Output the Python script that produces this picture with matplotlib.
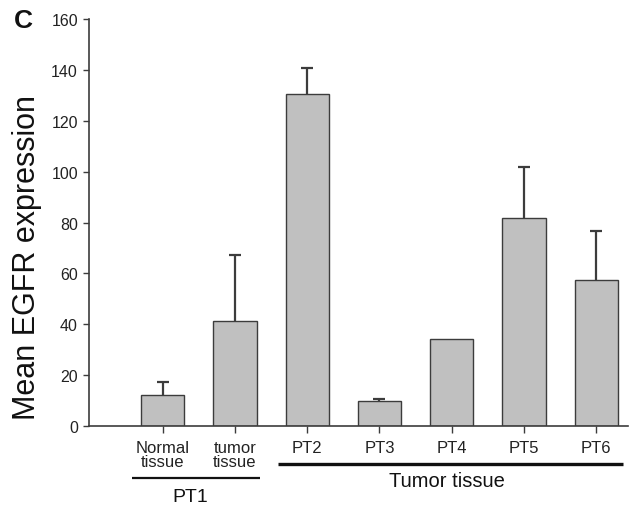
import matplotlib
matplotlib.use("Agg")
import matplotlib.pyplot as plt
import numpy as np

plt.rcParams['font.family'] = ['Liberation Sans', 'DejaVu Sans']

categories = ["Normal\ntissue", "tumor\ntissue", "PT2", "PT3", "PT4", "PT5", "PT6"]
means = [12.3, 41.2, 130.6, 9.8, 34.2, 81.8, 57.4]
err_upper = [5.0, 26.1, 10.1, 0.9, None, 20.2, 19.1]
yticks = [0, 20, 40, 60, 80, 100, 120, 140, 160]

fig = plt.figure(figsize=(6.3, 5.06), dpi=100)
ax = fig.add_axes([89/630, 79/506, 539/630, 407/506])

x = np.arange(1, len(categories) + 1)
ax.bar(x, means, width=0.6, color="#c0c0c0", edgecolor="#3c3c3c", linewidth=1.0, zorder=2)

ex = [xi for xi, e in zip(x, err_upper) if e is not None]
ey = [m for m, e in zip(means, err_upper) if e is not None]
ee = [e for e in err_upper if e is not None]
_, caps, _ = ax.errorbar(ex, ey, yerr=[np.zeros(len(ee)), ee], fmt="none", ecolor="#3c3c3c",
                         elinewidth=1.6, capsize=4.5, capthick=1.6, zorder=1)
caps[0].set_visible(False)

ax.set_xlim(-0.02, 7.44)
ax.set_ylim(0, 160)
ax.set_yticks(yticks)
ax.set_xticks(x)
ax.set_xticklabels(categories, fontsize=12, color="#222222", linespacing=0.95)
ax.tick_params(axis="y", labelsize=11.5, direction="out", length=4, width=1, colors="#3c3c3c", labelcolor="#222222", pad=4)
ax.tick_params(axis="x", direction="out", length=5, width=1, colors="#3c3c3c", labelcolor="#222222", pad=5)
for s in ["top", "right"]:
    ax.spines[s].set_visible(False)
for s in ["left", "bottom"]:
    ax.spines[s].set_color("#3c3c3c")
    ax.spines[s].set_linewidth(1.2)

trans = ax.get_xaxis_transform()
# group lines
ax.plot([0.57, 2.35], [-0.1278, -0.1278], transform=trans, color="#111111", lw=1.6, clip_on=False, solid_capstyle="butt")
ax.plot([2.6, 7.37], [-0.0934, -0.0934], transform=trans, color="#111111", lw=2.4, clip_on=False, solid_capstyle="butt")
ax.text(1.38, -0.172, "PT1", transform=trans, ha="center", va="center", fontsize=14, color="#111111")
ax.text(4.93, -0.135, "Tumor tissue", transform=trans, ha="center", va="center", fontsize=14.5, color="#111111")

fig.text(27/630, 1 - 258/506, "Mean EGFR expression", rotation=90, ha="center", va="center", fontsize=22, color="#111111")
fig.text(23/630, 1 - 21/506, "C", ha="center", va="center", fontsize=19, fontweight="bold", color="#111111")

fig.savefig("out.png", dpi=100)
